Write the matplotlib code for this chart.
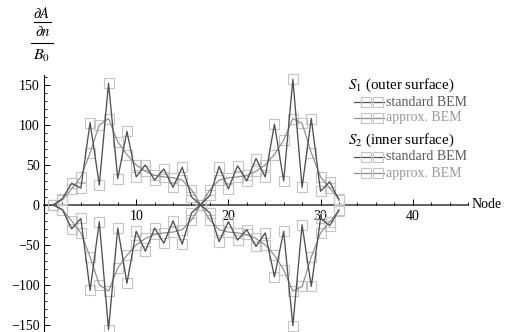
import matplotlib
matplotlib.use("Agg")
import matplotlib.pyplot as plt
from matplotlib.lines import Line2D
from matplotlib.ticker import MultipleLocator, FixedLocator, FuncFormatter

plt.rcParams['font.family'] = ['Liberation Serif', 'DejaVu Serif']
plt.rcParams['mathtext.fontset'] = 'stix'

# ---------------- data ----------------
nodes = list(range(1, 33))
s1_standard = [0, 8, 27, 21, 103, 25, 152, 33, 92, 35, 50, 31, 45, 22, 47, 10,
               0, 12, 48, 20, 49, 30, 58, 35, 101, 30, 157, 22, 108, 17, 29, 6]
s1_approx = [0, 6, 20, 35, 65, 100, 108, 79, 63, 50, 42, 37, 35, 34, 31, 19,
             0, 19, 31, 34, 35, 37, 42, 50, 63, 81, 108, 102, 65, 35, 21, 8]
s2_standard = [0, -6, -30, -17, -107, -21, -156, -29, -98, -33, -58, -29, -48, -20, -49, -10,
               0, -10, -46, -21, -44, -31, -52, -35, -90, -33, -151, -25, -102, -17, -26, -6]
s2_approx = [0, -6, -20, -35, -65, -100, -108, -79, -63, -50, -42, -37, -35, -34, -31, -19,
             0, -19, -31, -34, -35, -37, -42, -50, -63, -81, -108, -102, -65, -35, -21, -8]
x_tick_labels = [10, 20, 30, 40]
y_tick_labels = [-150, -100, -50, 0, 50, 100, 150]

# ---------------- styles ----------------
W, H = 510, 332
STD_COLOR = '#505050'
APX_COLOR = '#8c8c8c'
SQ_COLOR = '#c4c4c4'
FS = 10.0

fig = plt.figure(figsize=(W / 100, H / 100), dpi=100)
ax_left, ax_right, ax_top, ax_bot = 44, 468, 75, 332
ax = fig.add_axes([ax_left / W, 1 - ax_bot / H, (ax_right - ax_left) / W, (ax_bot - ax_top) / H])
ax.set_xlim(0, 46)
ax.set_ylim(-159, 162.5)

# markers (behind lines)
for ys in (s1_standard, s1_approx, s2_standard, s2_approx):
    ax.plot(nodes, ys, linestyle='none', marker='s', markersize=7.8,
            markerfacecolor='none', markeredgecolor=SQ_COLOR, markeredgewidth=0.8,
            zorder=2, clip_on=False)
for ys in (s1_approx, s2_approx):
    ax.plot(nodes, ys, color=APX_COLOR, lw=0.85, zorder=3, clip_on=False)
for ys in (s1_standard, s2_standard):
    ax.plot(nodes, ys, color=STD_COLOR, lw=0.95, zorder=4, clip_on=False)

# axes in Mathematica style
for s in ('top', 'right'):
    ax.spines[s].set_visible(False)
ax.spines['left'].set_position(('data', 0))
ax.spines['bottom'].set_position(('data', 0))
ax.spines['left'].set_color('black')
ax.spines['left'].set_linewidth(0.8)
ax.spines['bottom'].set_color('#555555')
ax.spines['bottom'].set_linewidth(1.3)
ax.spines['bottom'].set_zorder(1)

ax.xaxis.set_major_locator(FixedLocator(x_tick_labels))
ax.xaxis.set_minor_locator(MultipleLocator(2))
ax.yaxis.set_major_locator(FixedLocator(y_tick_labels))
ax.yaxis.set_minor_locator(MultipleLocator(10))
ax.yaxis.set_major_formatter(FuncFormatter(lambda v, p: f"{int(v)}".replace('-', '\u2212')))
ax.tick_params(axis='both', which='major', direction='in', length=4, width=0.7,
               labelsize=FS, colors='black')
ax.tick_params(axis='both', which='minor', direction='in', length=2, width=0.6)
ax.tick_params(axis='x', pad=4)
ax.tick_params(axis='y', pad=3)

fig.text(472 / W, 1 - 205 / H, 'Node', fontsize=FS, ha='left', va='center')

# y-axis label as stacked fraction
fig.text(42 / W, 1 - 14 / H, r'$\partial A$', fontsize=FS + 0.5, ha='center', va='center')
fig.add_artist(Line2D([34 / W, 51 / W], [1 - 22 / H, 1 - 22 / H], color='black', lw=0.8))
fig.text(43 / W, 1 - 32 / H, r'$\partial n$', fontsize=FS + 0.5, ha='center', va='center')
fig.add_artist(Line2D([31 / W, 53 / W], [1 - 43 / H, 1 - 43 / H], color='black', lw=0.8))
fig.text(42 / W, 1 - 56 / H, r'$B_0$', fontsize=FS + 1.5, ha='center', va='center')

# legend (drawn manually)
def legend_entry(ypx, color, textcolor, label):
    yf = 1 - ypx / H
    fig.add_artist(Line2D([354 / W, 384 / W], [yf, yf], color=color, lw=0.9))
    fig.add_artist(Line2D([366 / W, 378 / W], [yf, yf], linestyle='none', marker='s',
                          markersize=7.8, markerfacecolor='none',
                          markeredgecolor=SQ_COLOR, markeredgewidth=0.8))
    fig.text(386 / W, yf, label, fontsize=FS, color=textcolor, ha='left', va='center')

fig.text(348 / W, 1 - 85 / H, r'$S_1$ (outer surface)', fontsize=FS + 0.8, ha='left', va='center')
legend_entry(102, STD_COLOR, '#5a5a5a', 'standard BEM')
legend_entry(118, APX_COLOR, '#9a9a9a', 'approx. BEM')
fig.text(348 / W, 1 - 140 / H, r'$S_2$ (inner surface)', fontsize=FS + 0.8, ha='left', va='center')
legend_entry(157, STD_COLOR, '#5a5a5a', 'standard BEM')
legend_entry(173, APX_COLOR, '#9a9a9a', 'approx. BEM')

fig.savefig('out.png', dpi=100)
